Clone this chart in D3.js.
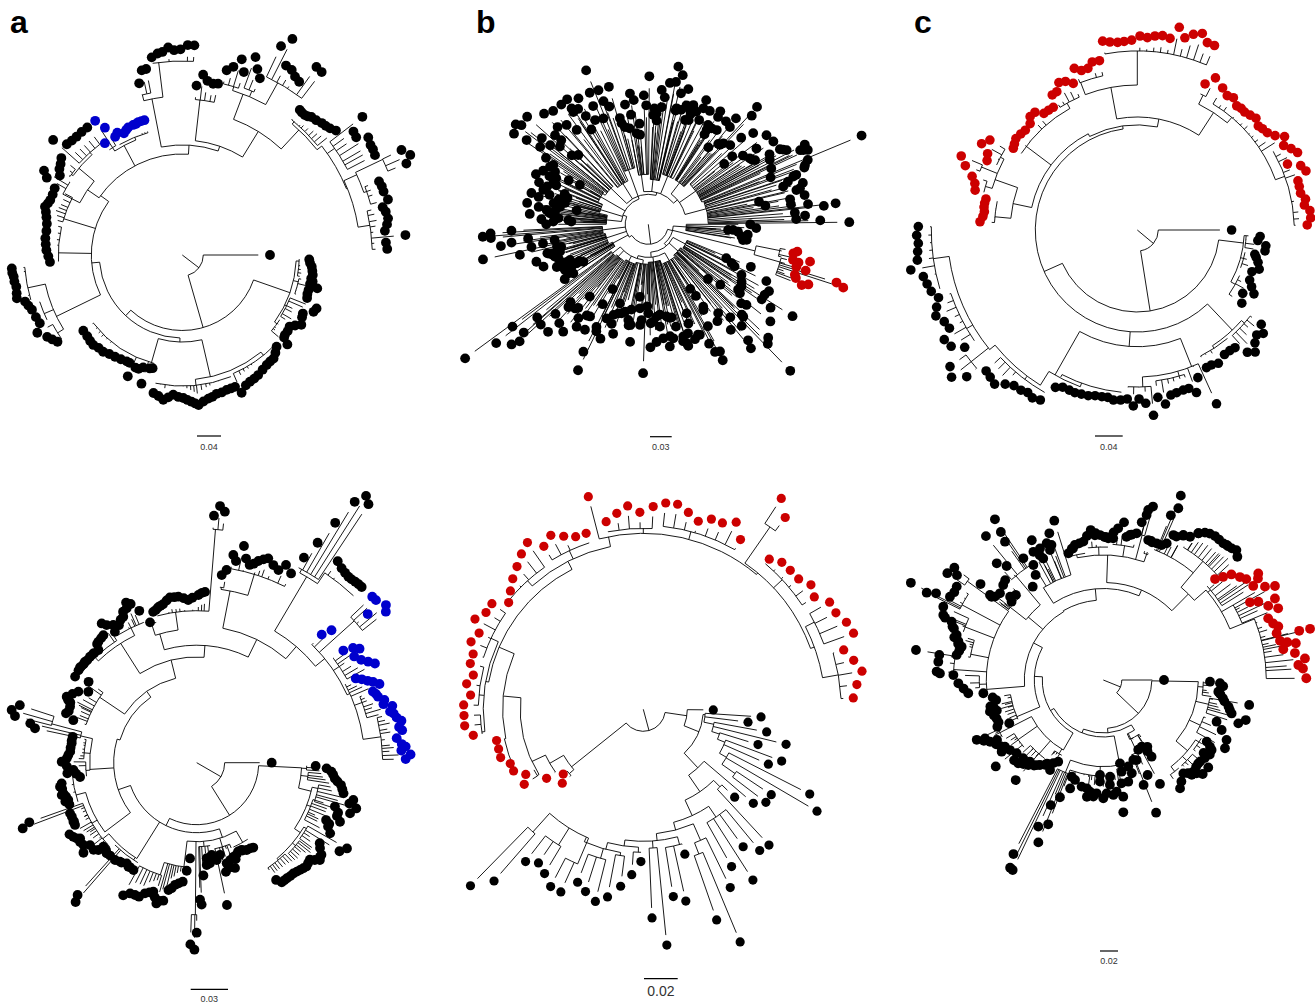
<!DOCTYPE html>
<html>
<head>
<meta charset="utf-8">
<title>Fan phylogenies</title>
<script src="https://cdnjs.cloudflare.com/ajax/libs/d3/7.8.5/d3.min.js"></script>
<style>
 body { margin: 0; background: white; }
 text { font-family: "Liberation Sans", sans-serif; }
 .branch { fill: none; stroke: black; stroke-width: 0.9px; }
 .letter { font-weight: bold; font-size: 32px; }
 .barlabel { fill: #333; text-anchor: middle; }
</style>
</head>
<body>
<svg id="viz" width="1315" height="1005"></svg>
<script>

// trees
// node = [depth, stem angle (optional), children...]
// a child that is all numbers is a run of tips: angle, dot distance, angle, dot distance...

var treeA = [21,37.5,
 [0,87.7],
 [75.5,74,
  [114,19.3,
   [117,3,[2,127,3.6,128,5.2,130,7,131,8.7,132,10.3,131]],
   [119,13,[11.5,133,12.8,131,13.9,139,15.5,131,17.3,131,19,132]],
   [116,26,[21.7,144.5,23.4,143,25.9,134,27.5,135,30.4,138,32,133]],
   [117,36,[33.7,129,35.8,130,37.9,130,39,131,40.4,138]]],
  [83,133,
   [87,91.6,
    [125,77,
     [129,51,[44.2,131.5,46.4,135,48.6,138,50.5,138,52.5,138.6,55,140,57.7,142,59.8,143,61.9,143.6,64,145,66.7,150]],
     [131,84,[68.2,142,70,142,71.8,142,74,143,76.1,143,78,145,79.7,146,81.8,148,83.8,151,85,149,86.4,147,88,145,89.6,143,91.6,142,93.7,140,95.6,143,97.5,146,99.6,143,101.8,141]]],
    [112,106,[104.7,117,106,118,107.6,135,109.2,119,111,122,112.6,122,114.2,133,116,120,117.6,120,120.5,121,123.5,122,126.4,123,129.3,125,132,125,134.7,126.5,137,126,139.5,125,142.6,124.6]]],
   [91,175,
    [140,154,
     [147,148,[145.2,152,147,155,148.8,158,151.8,164.5]],
     [150,157,[154.4,158,157,159,160,160,161.8,162]],
     [158,168,[163.5,164,165.3,171,167,170,169.2,169,171,170,172.7,170,174,171,175.5,171]]],
    [124,181,[177,132.5,179.5,134,182,136,184.5,137,187,138,190,138,193,139]],
    [124,197,[195.5,141,197.5,143,199.4,145.6,201,144,202.6,143,205,143,207.6,144]],
    [101,216,
     [115,214.5,
      [134,207,[209.7,156,211.4,162,213,146]],
      [135,220,
       [137,216,[215,150,216.8,152,218.7,155]],
       [138,228,[221.7,173,223.8,160,226,159,228.2,158.7,230.7,159,233.3,159]]]],
     [124,242,
      [128,237,[235.3,136,237,160,238.7,149]],
      [127,248,[240.4,136,242,138.5,244.4,135,245.8,137,247,138.6,249.3,139,250.5,139,251.7,140,253,140,254.3,140]]],
     [110,273.5,
      [159,259,
       [165,256,[255.9,177,257.6,189,259,189.5]],
       [194,263,[261.2,200,263,203,264.4,204,266.1,208,267.7,205,269.5,205.7,271.5,210,273.3,210]]],
      [115,289,
       [156,276.5,[274.8,170,276.6,181.5,278.2,176,280.2,174,281.8,175]],
       [145,301.6,
        [172,290.7,
         [176,287,[283.5,190,285.2,195,286.9,204.5,288.6,193]],
         [178,293,[290.3,211,292,200.5,293.7,193]],
         [197,299,[295.3,231,297,242.5,298.7,216,300.6,215,302.3,211,304,209,305.5,231,307.3,230]]],
        [171,313,
         [174,310,[309,186.7,310,186,311.2,186,312.2,187,313.1,189,314.8,190,316.6,192,318,193,319.4,194.6,321,197.7]],
         [177,322,
          [186,325,[322.5,227,324.2,211,325.9,210,327.7,220,329.7,218,331,218,332.6,217]],
          [178,338,
           [192,335.3,
            [222,334.5,[334.4,243,336.3,249,337.8,242]],
            [195,341,[339.5,210,341,211,342.5,211,344.9,213]]],
           [190,351,[346.6,206,348,208,349.9,209,351.5,207,353.2,204,354.9,224,356.5,204,358.3,205]]]]]]]]]]]]];

var treeB = [20,83,
 [23,146,
  [40,152,[146.7,100,146.8,89.6,148.5,94,150,90,150,75,151,88,151.3,95,151.4,81.6,152,78,153.5,96]],
  [44,162,[155,90,155,101,155.5,86,156.5,95,158,113,159,96,161,99,161.5,118,162.8,92.5,163,102,163.3,101,164,105,165.5,90,166.3,94,166.6,132,168,169]],
  [46,173,[169,119,169.7,107,170.5,95,171.6,149,172.4,138,173.3,121,175,158,175.7,166,176.7,158,177.3,137]],
  [27,200,
   [42,186,[180,102,181.6,95,182,77,182.7,107,183,80,184,90,184.7,93.7,185,119,186.4,99,187,100,188,102.7,189,111,189.6,93,190,123,191,73,191.3,90,192.5,97]],
   [50,197,[194,113,194.4,86,195,121,195.5,93,196.6,103,198,85,198.2,110.5,200,89,200.5,108,201,117,203,100,203.5,103.5]],
   [55,210,[204,123,206,110,206.6,103,207,118,209,91,209.4,107,210,79,210.4,114,212,112,213,122,214.7,148,215.6,133]],
   [30,250,
    [52,224,[214,162,217,166,218,161,218.9,126,219,137,221.3,117.7,221.6,162,222,103,223.7,129,224,121,224.7,98.5,226.7,152,227,133]],
    [48,238,[230,148,230.6,128.6,232.8,118.5,234,148,236.3,135,236.5,139,237,149,238.7,135,239,110.6,240,125,241,144,243,117,245,130.5]],
    [58,250,[246,144,247,115,248,166,249.6,143,250,131,251.7,124,254,143,255,110,255.2,104.5,256.5,100]],
    [33,285,
     [50,262,[259,122,259,97.7,261,111,262,132,262.7,91.7,263.3,125,264.7,90,265,101,268,129,269,119,270.4,148]],
     [45,276,[272.6,109.4,273,116,274.3,111,274.6,104,275.7,135,276.5,118,277.4,128,278.7,143,280.8,160.5,281,145,283,153,283.5,117,283.7,119.4,284,135]],
     [52,292,[286,119,286.5,141,287.8,125,289.4,110.6,290,121.7,290.7,127.5,291,118,291.2,111.7,293,122.6,295,137,295.4,128.4,296,116,298.5,129]],
     [38,320,
      [52,307,[301,116,301.7,111,302,106,302.5,134,303,128,303.4,115,306,116.5,307,129,308,97.6,309.6,137.5,310,127,311,106.6,312,107,312.8,160,312.8,110.4,313.6,150]],
      [58,325,[316,114,317,127,319,139,321,108,321.5,97,323,148,324,117,325,132,326.5,150,327,121,328,122,329,124.6,330,140,330.3,151.5,331,154,331.8,157,332,137.6,333,175.6,334,169,334.4,172,335,176,335.6,135,337.4,231]],
      [60,345,[338,172,339,131,339.3,167.5,340,166,341.5,156,341.8,152.6,343,146,344.4,140,345,160,346.6,155.9,347,152,348.5,113,349.4,159,350,144,351,118.5,352,144,352.8,161,354,176.5,353.6,188.5,355.5,147,356.8,157,358,148,358.7,172,359.4,201]]]]]]],
 [25,14.6,
  [38,4,[0,102,2,108,3.8,85,4,80,4.7,90,6,100,7.5,94,9,99.6,9.4,96]],
  [110,14,
   [134,11.3,[10.4,151.5,11.3,148,13,166,13.8,149]],
   [137,16,[14.3,155,16,154,16.4,164,17.2,197,18,205,19,155,20,157,20.6,171,21.6,165]]],
  [28,50,
   [42,28,[22.5,111,23.5,85,25,92,25.7,131,26,96,28.5,106,29,138,31.2,136,31.6,109.5,33.5,136,32.5,171,34.3,148,33.7,112]],
   [40,42,[36,111,37,114.7,38.5,156,39.4,127,40,94,40.4,122,42.5,81,43.4,165,44,130,44.2,132.5,45,169,45.9,204,47.4,138,48.6,124,49.3,153,50.4,161]],
   [33,85,
    [42,60,[51.8,113,52,134,54.5,119,56.3,99,57,77,56.4,86,57.3,102,59.7,118,60.6,146,61.3,155,62.4,144,63,134,65,122,65.7,121,66.7,97,67.9,124,68,107,70,116]],
    [38,82,[71.8,128,72,125,72.7,117.5,73.4,122,74.9,106,76,96,77,96,77.6,116.7,78.8,94,79,114,80,124,82.5,115,82.7,91,83.5,103,84.8,92.7,86,118,87,97.5,88.6,99,89,123,90,89]],
    [36,108,
     [40,98,[90.7,82,92,149,94,96,94.7,101,95.7,84.4,96.6,73,98.8,119,100,102,101,103,101.2,87,101.8,97.7,104.9,90.4,106.7,93,107.8,115]],
     [42,118,[108.6,94,109.7,84,110.2,106,111,97,112.7,124,113.9,103,115.7,162,115.9,119,116.8,115,117,143,118.8,74,119.7,92,121,123,122.3,109]],
     [44,133,[124,110,125,125,126.7,117,128.4,137,129,93,130,109,131,111.5,132,133,133,147,134,115,135,110,136,129]],
     [46,141,[137,147,137.7,174,138.7,182,139,165,140,145,142,193,143,170,143.8,227]]]]]]];

var treeC = [21,39.8,
 [0,94.3],
 [82,81,
  [107,7,
   [109,3,[3,123,5,121,7,129.5,9.3,129.4]],
   [110,15,[11.7,120,13,122,15,125,17.8,128,20,122]],
   [112,29,[24,123,26.4,127.6,28.7,133,31,123,35,127.6]]],
  [102,156,
   [138,46.5,
    [142,41,[37.3,155.8,39.4,163,41.3,159,43.8,163,46,169.7,48,164.5]],
    [141,57,[50.3,153,52.5,152,55,152,58.7,156,61.2,154,63.3,154]]],
   [116.7,94,
    [147,68.3,
     [65.5,191,67.7,159.6,70,173],
     [152,74,[72,166.6,74,166.5,76.4,167.4,78.5,168.4,80.8,176.3,83,168.6]],
     [157,88,[85,186,87.2,173.5,89.4,169,91.3,176,93.4,169.3]]],
    [166.8,119.6,
     [163,110,[95.6,170.8,98,171.7,100,170,102,170.4,104.3,171,106.5,172.8,108.8,173.4,111,174.3,113,174,115.4,174,117.5,177.4]],
     [183,122,
      [187,127,[119.7,195.7,122,198,124,196,126,198,128.4,198.6,130.6,203,132.8,210,135,208,137,206.7]],
      [190,141,
       [212,141.6,[139.3,225,141.6,237,143.9,231.8]],
       [197,150,[145.8,208.7,148,219.5,150.4,222,152.4,212,154.6,213.7,156.9,219,159,215,161.2,210]],
       [206,172,[163.4,215,165.6,217,167.7,219,170,230,172.2,222,174.4,220.7,176.5,219.4,178.6,220.7,180.9,219]]]]]],
   [105,262,
    [108,243,
     [127,192,
      [143,185.3,[183,157.5,185,155,186.8,154,188.5,155,190,155,191.6,154.5]],
      [151,199.5,
       [158,196,[193.8,167,196,169,198,173.7]],
       [168,202,[200.5,183.6,202.8,191]],
       [155,208,[204.8,165.5,207,168,209,178,211.4,172.7]]]],
     [139,217,
      [213.4,148.5,215,150,217,152,219.5,151,221.7,150,224.8,151,226.6,156,229,156,231.3,149.4,233.5,149,235.6,148.7],
      [145,241,[237.8,159.6,239.8,160,242,167,244.2,165,246.4,160]]]],
    [113,281,
     [145,259.5,
      [158,249,[248.7,173.5,250.7,169,253,169,255,174,257.4,173.5]],
      [179,270,[259.6,192,261.7,190,264,188.7,266,189,268.3,190,270.8,194,273,192.6,275.2,194.8,277.4,196,279.7,194.4,281.7,207,283.9,198,286,203.6,288.3,207,290.5,200,292.7,200]]],
     [140,303,
      [150,296,[294.9,161,297.2,171]],
      [147,310,
       [301,165.7,303.8,161.7,306,163.5,308.7,159,310.5,160,312.3,159.5,314.5,161,316.7,163,319.3,159.6,321,161,323.2,162.4,325.6,167,327.6,174.4],
       [157,340,[330,169,332.1,174,334.2,178,336.3,164,338.5,175.6,340.7,178.7,343,168,345,167.7,347.3,167.4,349.6,171,351.5,168.9,353.6,173.7,356,173.8,358.3,170]]]]]]]]];

var treeD = [28,30,
 [0,75],
 [62,58,
  [105,2.8,
   [110,3,[1.6,119,2.5,130,3.8,135]],
   [112,7,[5,137,6.5,139,7.6,142,8.8,146]],
   [118,14,
    [124,12,[10.3,148,11.8,150,13.4,161,15,158,16,166,18.3,161.5]],
    [122,21,[17.6,145,19.5,150,20.8,150,22.4,155,23.9,141.5,24.8,146,25.9,146,27.9,151]],
    [125,34,
     [128,31,[29.7,173,31.8,168,33.2,147,34.7,150,36.4,155]],
     [129,40,[37.3,155,38.3,157,39.5,153,40.6,149,42,150,43.4,151,44.7,150]],
     [127,50,[46,149,47.4,148,48.9,147,50.5,147,52,146.6,53.3,146.7,54.6,146.8,55.9,141.6]]]]],
  [70,116,
   [79,71,
    [92,60,[56.3,102,58,101,60.2,100.6,62.5,99,62.7,98,65,98,66.5,100]],
    [88,73,[68,104,68.7,101,70,112,71,103,73,110,73.4,105,75,113,75.8,95,78,145.5,78.4,99.4]],
    [84,85,[80.8,93.5,82.5,101.5,84,96,84.4,102.8,86.6,113,88,142,88.6,137]],
    [152,90.5,[90,170,90.7,187,92,181.8]],
    [105,97,
     [94,96,95.3,108.5,96.7,119.8,98.5,122,100,124,101.3,128,102.5,130.5,103.6,142,105,143,106,146.4],
     [118,108,[107.3,141,108.6,136,110,138,111.6,140.5,113.3,145.9,115,146,117,146.7,119,151.6]]]],
   [113,122,
    [116,123,[120.5,124.6,122.5,124,123.3,124.4,124.8,122.6,127,125,127.8,125.2,130,127,131,184.6,132,178,133,127,134.8,127.8]],
    [121,141,[136,126,138,125.6,138.4,131.5,139.8,135,141.5,144.7,142.3,134.8,144,140,145.8,141,147,139,147.8,142,149,144,150.6,146]]],
   [83,161,
    [115,143,
     [121,150,[152.9,136.7,154.4,136.7,154.5,136,156.6,136,158.2,136.4,159.3,186,160.4,177.7]],
     [125,165,[161.8,134,163.5,137,163.8,133.7,165.5,135,166.5,138.8,167,136.8,169,137,170,138.8,171.3,136.6,175.3,129.8]]],
    [107,176.4,
     [111,176,[173,117.5,174.8,121,176.6,123.5,178.5,130,180.4,135]],
     [113,185,[182,130,183.4,128.6,185,127,186.8,127,188.8,126.5,190,127,191.8,126.7]],
     [119,193,
      [192,165.3,193.3,171],
      [150,195,[194.4,187.6,195.9,192.4,198,186]]]],
    [80,196.5,
     [87,235,
      [117,214,[199,130.5,200.7,139.7,202,138,203.9,138.5,205.5,140,206,143,206.9,145.8,209,142,211,138,213.2,129.5,215.3,149,216.8,135]],
      [105.7,256,
       [141.5,237.5,
        [146,226,[218,150,219.3,150.7,221,150,222,150.6,223,150,224.8,150.4,226.6,150.4,226.8,150,228.9,149.5,230,155,230.9,155.9,232.5,157,233.8,158,235.7,168.6,236.8,164.5]],
        [150,244,[238,154.4,238.8,161,240.5,158,242,162,243.3,163.4,244,168,245.6,169.5,246.2,175,247.4,171.9,249.3,162.4]]],
       [117.5,274,
        [134,254,
         [146,252,[251.6,147.9,253.9,157]],
         [152,262,
          [255,158,256,160,257,161,258,162,259.5,165,260.8,167.5,262.3,167,263.7,167,265.5,165,267,162.9,268.5,165,270.6,167.7,271.8,170,272.8,171],
          [234,274.6,[274,247.6,275.2,257.7,276.4,252.6]]]],
        [137,296,
         [175,281,
          [177,278,[277.6,189.3,278.8,195]],
          [197,287,[280,210.9,281,205.5,282.3,221.8,283.6,210,285,204.7,286,207,287,210.9,288.2,214,289.3,216.5,291.2,212,293,209.3,294.3,217,296.5,211.5]]],
         [153,310.6,
          [216,300.6,
           [220,298.5,[297.6,231.4,298.8,251,300,277,301.2,305,302.4,316,303.6,310.4]],
           [229,304,[305,245.9,306.7,242.5,308,241,309.2,240,310.2,240,311.2,240.6,312.2,241,313.2,241]]],
          [165,320.9,
           [314.3,179,315.5,189],
           [212,318,[316.6,241.6,317.8,242,319,226.6,320.2,246.3,321.4,242]],
           [172,326,[322.6,184.6,323.7,194,325,198.8,326,190,328,194,329.5,199,330.9,204]],
           [168,335.7,
            [332.1,180,333.2,185,334.4,189.6,335.4,194,336.7,199],
            [176,340,[338,190,339,192,340,193,341.5,197.9,342.6,195.7,343.8,203.7,345.2,200]],
            [186,352,[346,203,347.3,205,348.4,209,350,205.5,351,208,353,201.5,354.8,205.9,355.6,209.6,356.6,205,357.8,214,359,209]]]]]]]]]]]]]];

var treeE = [22,75,
 [44,8.4,
  [0.5,70],
  [60,22,
   [62,5,
    [3.7,118,7,105.5],
    [72,12,
     [10.4,125.4,13.8,147],
     [80,18,
      [17.1,120],
      [88,22,
       [20.5,147.7,23.7,136.6],
       [96,30,
        [27,186.8,30.4,201.4],
        [112,35,[33.7,153.8,37.2,153.9]]]]]]],
   [80,47,
    [40.5,144.7],
    [100,55.5,
     [109,45.3,[43.9,126.8,47.2,185]],
     [117,65.3,
      [130,56,[50.5,183,54,169.9,57.3,202.9,60.7,180.4]],
      [125,75,
       [143,66.4,
        [64,198.4],
        [155,69,[67.4,252,70.8,223]]],
       [132,84,
        [140,75,[74,150.7,77.5,196.4,80.9,189.7]],
        [139,86,[84.3,236.9,87.6,208.8]],
        [138,98,
         [143,92,[90.9,152.3,94,165.8]],
         [145,105,
          [148,99,[97.3,178.4,100.8,191]],
          [155,106,[104,198,107.6,191.2,110.8,185]],
          [140,114,
           [168,113,[114.3,200.4,117.6,200]],
           [160,122,[121,191.7,124.3,186,127.7,192.5]],
           [165,132,[131,227.5,134.4,247]]]]]]]]]]]],
 [92,141.3,
  [98,139,[137.6,109.7,141,103]],
  [108,150,
   [144.5,118.8],
   [123,154.9,
    [125,148,[147.8,140.7,151,134.4]],
    [140.6,185.4,
     [142,168,[154.6,143.6,157.8,143.7,161.3,150.6,164.7,150,168,150]],
     [157,203.3,
      [160,190,
       [163,172,[171.3,172,174.7,179.4,178,179.4]],
       [165,185,[181.4,179.7,184.7,173.3,188.2,178.5,191.4,173.4,194.8,178.9]],
       [168,205,[198,178.9,201.4,185,204.9,181,208.2,191,211.6,184.7,214.9,184.6]]],
      [166,243,
       [173,228,[218.4,171.8,221.7,178,225,184.6,228.5,190.6,231.9,197.5,235.2,203]],
       [175,245,[238.6,190.9,242,197,245.3,190.5,248.6,185.4,252,185]],
       [176,258.6,
        [255.5,219.6],
        [181,270,[258.8,191.3,262.3,197.8,265.6,204,269,197,272.8,203]],
        [184,285,[276.2,207.5,279.5,207.9,282.9,202,286.3,195.9,289.7,202,293,202.5,296.4,208.9,299.8,195.6]],
        [178,310,
         [222,304.8,[303.2,252,306.5,238.6]],
         [190,317,[310,196,313.3,202,316.6,202.3,320,202.8,323.4,208.8,326.7,204.6]],
         [182,340,
          [192,333,[330.1,214.9,333.4,215.4,336.8,221,340.1,223.6]],
          [198,350,[343.5,209,346.9,216,350.1,222,353.4,215,356.9,210.3]]]]]]]]]]]];

var treeF = [18.5,22,
 [0,60.7],
 [48.5,43.6,
  [95,1,
   [100,4,[0.9,106.7,1.6,116.7,3,120,5.8,115.6,7,118,8.7,121]],
   [108,13,[9.7,148,10,123,12,128,13.3,130,14.6,132.6,15.7,148,17.8,141.8]],
   [107,25,[20.2,120.7,22.9,128.5,25.9,137,29.3,139.5]],
   [110,40,
    [114,33,[30.8,120.4,32,125.8,32.9,129,35,130,36,124,37.6,128]],
    [116,44,[39.8,136.6,40,126.6,41.3,126.4,43,127,43.4,136.8,45,132,45.5,128.5,47,129.7,47.7,126]],
    [116,52,[49.4,123,52.4,128,54.7,132.8]]]],
  [53,85,
   [59,58,
    [65,66,[56.6,80,57.8,90.6,58.2,84,60,76.9,63.4,78]],
    [80,65,[61.4,118.4,65,104.8,67.4,86.7,68.3,142.8,69,112.4,69.4,85.4]]],
   [57,112,
    [86.6,79,
     [90,76,[73,97.5,73.9,90,76.2,104.7,78.7,93.5,78.7,85,80,105,80.3,118.4,81.4,133.8]],
     [96,92,[83.2,112.5,85,115.4,86,97,86.4,105,88.3,113.4,90,118.3,91.9,101.7,92,95,93.4,113.5,94.9,117,96.8,112.5,98,117.9,98.7,109.6,101.5,108.8,105.8,103.9,107,113.4,108.1,101.7,110.3,125]],
     [100,112.3,[110.9,154.5,111.8,174.9,112.8,135.7,113.9,160.4,115.5,210.5,116.4,209.6,117.3,195.9]]],
    [61,150,
     [80.6,119.7,
      [86,121,[118.9,93.3,120.6,104.6,121,97,122.5,100,124,100.8,124.5,103]],
      [98,131,[126.7,106,128,108,129,110,131.2,133,131.4,113.4,131.9,109.8,133.5,116,135.6,119,135.7,112,138,120]],
      [104,145,[139.8,113.5,141.2,138,143.1,116.7,144.8,124.4,145.9,118.8,147,122,149,125]],
      [116,153,[150.6,122,151.4,129,153,134,153.7,132,154.7,140]]],
     [69,183,
      [94,157,[155.3,103.5,156.2,115.8,158,113,160.2,113.4,162,115,164,110.8,164.4,117.7,166,113,166.8,116,169.4,109,171,112]],
      [79,208,
       [117,175.4,
        [120,174,[173.7,120.7,174.4,135.7]],
        [124,178,[176.5,140,178.7,145,181.9,150]],
        [150,184,[182.3,163.5,182.9,166.9,186.3,166,188.7,165.9,189.1,189.7]],
        [135,191,[189.7,148.8,191.5,147,193.2,145.5,194,149.6,195,150,196,155,197.1,153.4]],
        [148,201,[199,158,199.5,160,201,162.5,201.5,170,202.1,172.7,204.6,176]],
        [160,208,[206.3,197,206.8,215.6,207.4,188.4,208.5,174.5,210.5,173,212.5,173.8]],
        [168,216,[214.4,189,215.6,180,217,186.5]]],
       [98,220,
        [118,218,[216.7,139.3,216.9,141.7,217.6,136.7,218,155.8,220,134.9,220.5,120.6,221.8,125,223.5,138,224.2,122,225.5,140]],
        [136,230,[227.6,158,229.7,149.5,230.8,185.7,232.9,117,234.6,169.7,235.3,180,236,193.8,236.7,145.6,237.2,125]]],
       [80,240,
        [91.5,265,
         [110,237,[238.7,134.6,241.4,146,242.9,157,243,140,243.7,135.6,244.3,146,247.5,148,247.7,140.5,249,144.6,249.8,156.3,252.9,166.7]],
         [97.5,293,
          [125,272,
           [128,258,[254.6,131.4,256.5,135,257,135,258.1,138,260,138.7,261.8,139.8]],
           [133,268,[263.5,145,265.2,150.5,266.7,145,267,147,268.7,145,270.5,143,271.3,143,272,141.8]],
           [136,279,[274,142,274,148,275.6,152.4,277.5,159,279.2,145,280.4,147.4,281,148,282.8,150.4]],
           [150,285,[283.7,162.3,284.7,170.6,284.8,175.9,286,180.4]],
           [133,289,[287.8,147,289,147,289.5,146]]],
          [121,314.7,
           [140,310,
            [291.3,146.7,292.3,178,292.8,200,293.4,147,293.6,187.4,294.9,150.6,295.8,161,297,161,298.9,165.6,299,165],
            [155,310,[301.2,167.5,302.9,174.8,303,175,304.6,179,306,181,307.8,182.2,309.5,182,311.3,181.9,312.4,183,313,183,314.3,183.9,315.7,186,317.4,182.1]]],
           [136.5,318.8,
            [140,320,[317.9,150.6,319.3,158,320.5,166,323,171,324.8,175,325.5,188,326.7,185,327.9,177]],
            [150,330,[330,186.7,331.3,195.7,332.1,166,333.2,173.7,334.6,190,335.8,180.8,337.7,189]],
            [163,338,[339.5,176,341.6,179,343,183,344.9,179.5,345.9,202,346.1,213,347.5,181,348.4,187.8,349.2,196,350.3,182.6,352,193.5,353.9,202.8,355.6,195.6,356.7,200,359.5,203]]]]]]]]]]]]]];

var trees = [treeA, treeB, treeC, treeD, treeE, treeF];
var letters = ["a", "b", "c"];
var barValues = ["0.04", "0.03", "0.04", "0.03", "0.02", "0.02"];
var barLengths = [24, 21.7, 27.7, 37.3, 33.7, 18];
// which tips carry colour: from angle, to angle
var colourRanges = [[235, 255], [10, 22], [183, 359], [314, 360], [137, 357], [317.8, 360]];
var colourNames = ["#0000cd", "#cc0000", "#cc0000", "#0000cd", "#cc0000", "#cc0000"];

// layout of the six fans on the page
var centres = [[182.3,255],[648.3,224.3],[1137.3,230],[196.7,762.7],[643.3,709.3],[1103.3,680]];
var barPos = [[197,436],[650,436.7],[1095,436],[190.7,989.3],[644,978.7],[1100,951]];
var barFont = [9, 9, 9, 9, 14, 9];
var barGap = [11, 10, 11, 10, 12, 10];
var dotOffset = [11.7, 12, 11.7, 12, 10, 11.7];
var dotSize = [4.9, 4.9, 4.8, 4.9, 4.6, 4.9];
var letterX = [10, 476, 914];

var svg = d3.select("#viz");
var radial = d3.scaleLinear().domain([0, 100]).range([0, 100]);
var angle = d3.scaleLinear().domain([0, 360]).range([0, 2 * Math.PI]);

function allNumbers(a) { return a.every(function(v) { return typeof v === "number"; }); }

function toNode(d) {
    var node = { r: d[0], children: [] };
    var start = 1;
    if (typeof d[1] === "number") { node.a = d[1]; start = 2; }
    d.slice(start).forEach(function(kid) {
	if (allNumbers(kid)) {
	    for (var i = 0; i < kid.length; i += 2)
		node.children.push({ a: kid[i], dot: kid[i + 1] });
	} else {
	    node.children.push(toNode(kid));
	}
    });
    return node;
}

function drawFan(i) {
    var c = centres[i];
    var root = d3.hierarchy(toNode(trees[i]));

    // a node without a stem angle sits in the middle of its children
    root.eachAfter(function(n) {
	if (n.children) {
	    var ext = d3.extent(n.children, function(k) { return k.data.a; });
	    if (n.data.a === undefined) n.data.a = (ext[0] + ext[1]) / 2;
	    n.data.lo = Math.min(ext[0], n.data.a);
	    n.data.hi = Math.max(ext[1], n.data.a);
	}
    });

    function px(r, a) { return [c[0] + radial(r) * Math.cos(angle(a)), c[1] + radial(r) * Math.sin(angle(a))]; }

    var p = d3.path();
    root.each(function(n) {
	var from = n.parent ? n.parent.data.r : 0;
	var to = n.children ? n.data.r : n.data.dot - dotOffset[i];
	if (n.children || to > from) {
	    var s = px(from, n.data.a), e = px(to, n.data.a);
	    p.moveTo(s[0], s[1]);
	    p.lineTo(e[0], e[1]);
	}
	if (n.children) {
	    var a0 = px(n.data.r, n.data.lo);
	    p.moveTo(a0[0], a0[1]);
	    p.arc(c[0], c[1], radial(n.data.r), angle(n.data.lo), angle(n.data.hi));
	}
    });

    var g = svg.append("g");
    g.append("path").attr("class", "branch").attr("d", p.toString());

    g.selectAll("circle")
	.data(root.leaves())
	.enter().append("circle")
	.attr("cx", function(n) { return px(n.data.dot, n.data.a)[0]; })
	.attr("cy", function(n) { return px(n.data.dot, n.data.a)[1]; })
	.attr("r", dotSize[i])
	.attr("fill", function(n) {
	    var on = n.data.a >= colourRanges[i][0] && n.data.a <= colourRanges[i][1];
	    return on ? colourNames[i] : "black";
	});

    // scale bar
    var b = barPos[i];
    g.append("line")
	.attr("x1", b[0]).attr("y1", b[1])
	.attr("x2", b[0] + radial(barLengths[i])).attr("y2", b[1])
	.attr("stroke", "black").attr("stroke-width", 1.2);
    g.append("text")
	.attr("class", "barlabel")
	.attr("x", b[0] + radial(barLengths[i]) / 2)
	.attr("y", b[1] + barGap[i])
	.attr("dy", "0.35em")
	.style("font-size", barFont[i] + "px")
	.text(barValues[i]);
}

trees.forEach(function(t, i) { drawFan(i); });

svg.selectAll(".letter")
    .data(letters)
    .enter().append("text")
    .attr("class", "letter")
    .attr("x", function(d, i) { return letterX[i]; })
    .attr("y", 33)
    .text(function(d) { return d; });

</script>
</body>
</html>
